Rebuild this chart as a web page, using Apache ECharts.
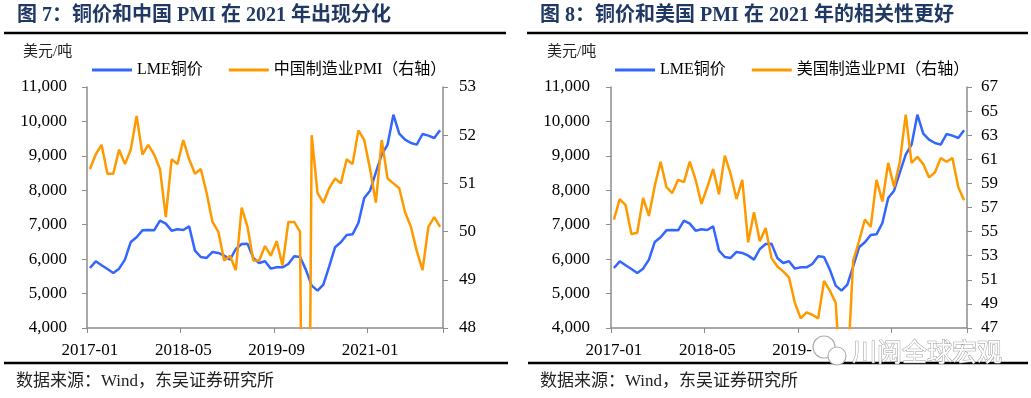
<!DOCTYPE html>
<html>
<head>
<meta charset="utf-8">
<script src="https://cdn.jsdelivr.net/npm/echarts@6/dist/echarts.min.js"></script>
<style>
  html, body { margin: 0; padding: 0; background: #fff; }
  #chart { width: 1031px; height: 398px; }
</style>
</head>
<body>
<div id="chart"></div>
<script>
// 月份 2017-01 ~ 2022-01
const months = [];
for (let y = 2017; y <= 2022; y++) {
  for (let m = 1; m <= 12; m++) {
    if (y === 2022 && m > 1) break;
    months.push(y + '-' + String(m).padStart(2, '0'));
  }
}

// LME铜价（美元/吨）
const lmeCopper = [5743, 5937, 5821, 5714, 5598, 5724, 5986, 6499, 6634, 6837, 6847, 6837,
  7118, 7031, 6827, 6866, 6847, 6953, 6247, 6063, 6034, 6208, 6179, 6102,
  5986, 6295, 6440, 6450, 6034, 5889, 5937, 5724, 5763, 5763, 5860, 6082,
  6063, 5695, 5230, 5085, 5259, 5792, 6344, 6489, 6702, 6721, 7050, 7776,
  7989, 8522, 9035, 9325, 10196, 9645, 9470, 9374, 9325, 9635, 9587, 9519,
  9742];

// 中国制造业PMI
const chinaPmi = [51.3, 51.6, 51.8, 51.2, 51.2, 51.7, 51.4, 51.7, 52.4, 51.6, 51.8, 51.6,
  51.3, 50.3, 51.5, 51.4, 51.9, 51.5, 51.2, 51.3, 50.8, 50.2, 50.0, 49.4,
  49.5, 49.2, 50.5, 50.1, 49.4, 49.4, 49.7, 49.5, 49.8, 49.3, 50.2, 50.2,
  50.0, 35.7, 52.0, 50.8, 50.6, 50.9, 51.1, 51.0, 51.5, 51.4, 52.1, 51.9,
  51.3, 50.6, 51.9, 51.1, 51.0, 50.9, 50.4, 50.1, 49.6, 49.2, 50.1, 50.3,
  50.1];

// 美国制造业PMI
const usPmi = [56.0, 57.7, 57.2, 54.8, 54.9, 57.8, 56.3, 58.8, 60.8, 58.7, 58.2, 59.3,
  59.1, 60.8, 59.3, 57.3, 58.7, 60.2, 58.1, 61.3, 59.8, 57.7, 59.3, 54.1,
  56.6, 54.2, 55.3, 52.8, 52.1, 51.7, 51.2, 49.1, 47.8, 48.3, 48.1, 47.8,
  50.9, 50.1, 49.1, 41.5, 43.1, 52.6, 54.2, 56.0, 55.4, 59.3, 57.5, 60.7,
  58.7, 60.8, 64.7, 60.7, 61.2, 60.6, 59.5, 59.9, 61.1, 60.8, 61.1, 58.7,
  57.6];

const serif = '"Liberation Serif", "Noto Sans CJK SC", serif';
const cjk = '"Liberation Serif", "Noto Sans CJK SC", sans-serif';
const axisGray = '#8c8c8c';
const blue = '#3366ff';
const orange = '#ff9900';

function xAxisOf(gridIndex) {
  return {
    type: 'category',
    gridIndex,
    data: months,
    boundaryGap: true,
    axisLine: { lineStyle: { color: axisGray, width: 1.5 } },
    axisTick: { show: true, interval: 15, length: 5, lineStyle: { color: axisGray } },
    axisLabel: { interval: 15, margin: 14, color: '#000', fontFamily: serif, fontSize: 17 },
    splitLine: { show: false }
  };
}

function yAxisOf(gridIndex, pos, min, max, interval, margin, fmt) {
  return {
    type: 'value',
    gridIndex,
    position: pos,
    min, max, interval,
    axisLine: { show: true, lineStyle: { color: axisGray, width: 1.5 } },
    axisTick: { show: true, length: 5, lineStyle: { color: axisGray } },
    axisLabel: { margin, color: '#000', fontFamily: serif, fontSize: 17, formatter: fmt },
    splitLine: { show: false }
  };
}

const thousands = v => v.toLocaleString('en-US');

function text(x, y, str, font, fill) {
  return { type: 'text', x, y, style: { text: str, font, fill, verticalAlign: 'middle' } };
}
function rule(x1, x2, y) {
  return { type: 'line', shape: { x1, y1: y, x2, y2: y }, style: { stroke: '#000', lineWidth: 2.5 } };
}

const chart = echarts.init(document.getElementById('chart'));

const option = {
  backgroundColor: '#fff',
  animation: false,
  grid: [
    { left: 87, top: 87, width: 356, height: 241 },
    { left: 611, top: 87, width: 356, height: 241 }
  ],
  legend: [
    {
      left: 92, top: 62, padding: 0, itemWidth: 40, itemHeight: 3, itemGap: 26, icon: 'rect',
      data: ['LME铜价', '中国制造业PMI（右轴）'],
      textStyle: { fontFamily: cjk, fontSize: 16, color: '#000' }
    },
    {
      left: 615, top: 62, padding: 0, itemWidth: 40, itemHeight: 3, itemGap: 26, icon: 'rect',
      data: ['LME铜价', '美国制造业PMI（右轴）'],
      textStyle: { fontFamily: cjk, fontSize: 16, color: '#000' }
    }
  ],
  xAxis: [xAxisOf(0), xAxisOf(1)],
  yAxis: [
    yAxisOf(0, 'left', 4000, 11000, 1000, 20, thousands),
    yAxisOf(0, 'right', 48, 53, 1, 16),
    yAxisOf(1, 'left', 4000, 11000, 1000, 21, thousands),
    yAxisOf(1, 'right', 47, 67, 2, 14)
  ],
  series: [
    { name: 'LME铜价', type: 'line', xAxisIndex: 0, yAxisIndex: 0, data: lmeCopper,
      showSymbol: false, lineStyle: { color: blue, width: 2.5 }, itemStyle: { color: blue } },
    { name: '中国制造业PMI（右轴）', type: 'line', xAxisIndex: 0, yAxisIndex: 1, data: chinaPmi,
      showSymbol: false, clip: true, lineStyle: { color: orange, width: 2.5 }, itemStyle: { color: orange } },
    { name: 'LME铜价', type: 'line', xAxisIndex: 1, yAxisIndex: 2, data: lmeCopper,
      showSymbol: false, lineStyle: { color: blue, width: 2.5 }, itemStyle: { color: blue } },
    { name: '美国制造业PMI（右轴）', type: 'line', xAxisIndex: 1, yAxisIndex: 3, data: usPmi,
      showSymbol: false, clip: true, lineStyle: { color: orange, width: 2.5 }, itemStyle: { color: orange } }
  ],
  graphic: [
    text(17, 16, '图 7：铜价和中国 PMI 在 2021 年出现分化', 'bold 20px ' + cjk, '#1f3864'),
    text(540, 16, '图 8：铜价和美国 PMI 在 2021 年的相关性更好', 'bold 20px ' + cjk, '#1f3864'),
    rule(4, 506, 33),
    rule(527, 1028, 33),
    text(23, 52, '美元/吨', '15px ' + cjk, '#222'),
    text(547, 52, '美元/吨', '15px ' + cjk, '#222'),
    rule(4, 508, 363),
    rule(528, 1028, 363),
    text(16, 382, '数据来源：Wind，东吴证券研究所', '17px ' + cjk, '#222'),
    text(540, 382, '数据来源：Wind，东吴证券研究所', '17px ' + cjk, '#222'),
    // 水印（盖在坐标轴标签之上）
    { type: 'rect', z: 100, shape: { x: 812, y: 337, width: 192, height: 24 }, style: { fill: '#fff' } },
    { type: 'circle', z: 101, shape: { cx: 824, cy: 347, r: 11 },
      style: { fill: '#fff', stroke: '#b0b0b0', lineWidth: 1.2 } },
    { type: 'circle', z: 102, shape: { cx: 837, cy: 356, r: 9 },
      style: { fill: '#fff', stroke: '#b0b0b0', lineWidth: 1.2 } },
    {
      type: 'text', z: 103, x: 852, y: 351,
      style: { text: '川阅全球宏观', font: '25px "Noto Sans CJK SC", sans-serif',
        fill: '#fff', stroke: '#9a9a9a', lineWidth: 1, verticalAlign: 'middle' }
    }
  ]
};

chart.setOption(option);
</script>
</body>
</html>
